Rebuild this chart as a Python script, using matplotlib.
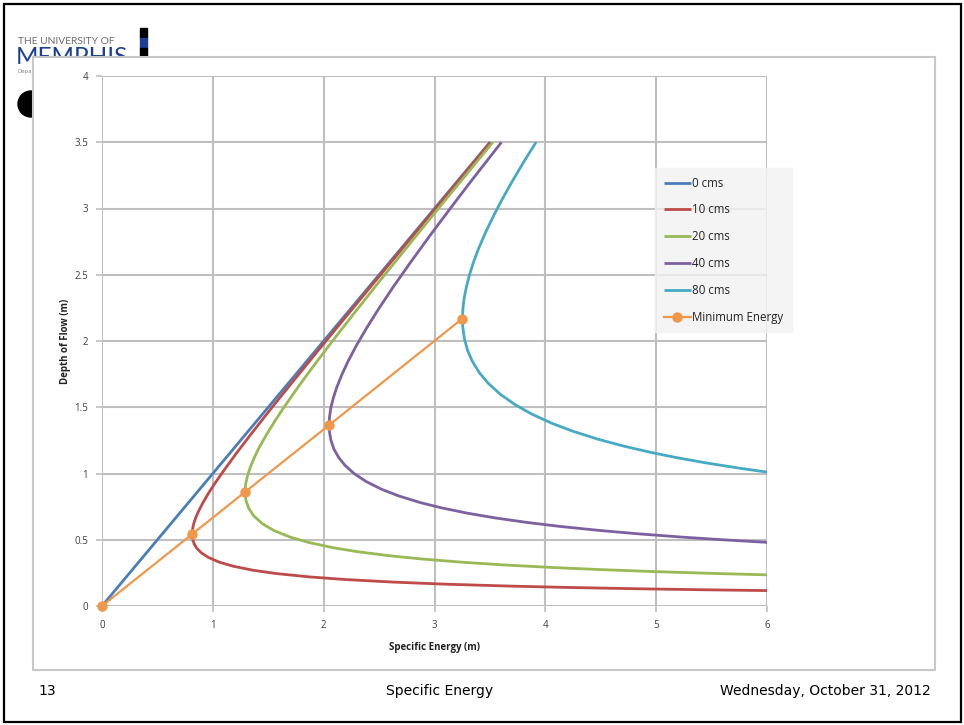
import matplotlib
matplotlib.use("Agg")
import matplotlib.pyplot as plt
from matplotlib.patches import Rectangle, Ellipse

# depth (m) and specific energy (m), one pair of lists per flow
depth_0 = [0.0, 3.5]
energy_0 = [0.0, 3.5]

depth_10 = [0.116, 0.122, 0.13, 0.14, 0.15, 0.165, 0.18, 0.20, 0.22, 0.245,
            0.27, 0.30, 0.33, 0.365, 0.40, 0.435, 0.47, 0.505, 0.54, 0.58,
            0.62, 0.67, 0.72, 0.78, 0.85, 0.92, 1.0, 1.15, 1.3, 1.5,
            1.7, 2.0, 2.4, 2.9, 3.5]
energy_10 = [6.035, 5.473, 4.842, 4.203, 3.690, 3.090, 2.638, 2.191, 1.865, 1.572,
             1.362, 1.185, 1.061, 0.963, 0.898, 0.856, 0.831, 0.817, 0.813, 0.817,
             0.827, 0.847, 0.874, 0.911, 0.960, 1.014, 1.080, 1.210, 1.347, 1.535,
             1.728, 2.020, 2.414, 2.910, 3.507]

depth_20 = [0.235, 0.245, 0.26, 0.275, 0.29, 0.31, 0.33, 0.355, 0.38, 0.41,
            0.44, 0.48, 0.52, 0.57, 0.62, 0.68, 0.74, 0.80, 0.86, 0.92,
            0.98, 1.05, 1.12, 1.2, 1.3, 1.4, 1.5, 1.65, 1.8, 2.0,
            2.2, 2.45, 2.7, 3.0, 3.5]
energy_20 = [6.003, 5.552, 4.972, 4.487, 4.078, 3.625, 3.255, 2.883, 2.586, 2.305,
             2.085, 1.863, 1.698, 1.550, 1.449, 1.369, 1.322, 1.298, 1.291, 1.296,
             1.312, 1.339, 1.374, 1.421, 1.489, 1.563, 1.642, 1.767, 1.898, 2.080,
             2.266, 2.503, 2.744, 3.035, 3.526]

depth_40 = [0.48, 0.50, 0.52, 0.545, 0.57, 0.60, 0.63, 0.665, 0.70, 0.74,
            0.78, 0.83, 0.88, 0.94, 1.0, 1.06, 1.12, 1.185, 1.25, 1.31,
            1.37, 1.43, 1.5, 1.57, 1.65, 1.75, 1.85, 1.97, 2.1, 2.25,
            2.4, 2.6, 2.8, 3.0, 3.2, 3.5]
energy_40 = [6.010, 5.597, 5.232, 4.835, 4.492, 4.139, 3.840, 3.546, 3.300, 3.067,
             2.874, 2.680, 2.525, 2.382, 2.274, 2.194, 2.136, 2.092, 2.066, 2.053,
             2.049, 2.053, 2.066, 2.087, 2.118, 2.166, 2.222, 2.298, 2.389, 2.502,
             2.621, 2.789, 2.963, 3.142, 3.324, 3.604]

depth_80 = [1.01, 1.04, 1.08, 1.12, 1.16, 1.21, 1.26, 1.32, 1.38, 1.45,
            1.52, 1.6, 1.68, 1.76, 1.85, 1.93, 2.02, 2.1, 2.17, 2.25,
            2.32, 2.41, 2.5, 2.6, 2.7, 2.82, 2.95, 3.07, 3.2, 3.35, 3.5]
energy_80 = [6.006, 5.752, 5.450, 5.183, 4.948, 4.691, 4.470, 4.245, 4.056, 3.874,
             3.726, 3.591, 3.486, 3.405, 3.339, 3.298, 3.269, 3.256, 3.252, 3.257,
             3.267, 3.288, 3.316, 3.354, 3.399, 3.461, 3.536, 3.611, 3.698, 3.804, 3.916]

depth_min = [0.0, 0.542, 0.86, 1.366, 2.168]
energy_min = [0.0, 0.813, 1.29, 2.05, 3.25]

x_ticks = [0, 1, 2, 3, 4, 5, 6]
y_ticks = [0, 0.5, 1, 1.5, 2, 2.5, 3, 3.5, 4]
y_ticklabels = ["0", "0.5", "1", "1.5", "2", "2.5", "3", "3.5", "4"]

series = [
    (energy_0, depth_0, "0 cms", "#4a7ebb"),
    (energy_10, depth_10, "10 cms", "#be4b48"),
    (energy_20, depth_20, "20 cms", "#98b954"),
    (energy_40, depth_40, "40 cms", "#7d60a0"),
    (energy_80, depth_80, "80 cms", "#46aac5"),
]

W, H = 964, 725
fig = plt.figure(figsize=(9.64, 7.25), dpi=100)
fig.patch.set_facecolor("white")

def fx(px):
    return px / W

def fy(py):
    return 1 - py / H

# slide border
fig.patches.append(Rectangle((fx(4), fy(722)), fx(957), 718 / H, transform=fig.transFigure,
                             fill=False, edgecolor="black", linewidth=1.6, zorder=0))

# logo bits that sit behind the chart box
fig.text(fx(18), fy(44), "THE UNIVERSITY OF", fontsize=7.4, color="#6d6e71",
         family="Lato", va="baseline", zorder=0)
fig.text(fx(16), fy(47), "MEMPHIS", fontsize=17.5, color="#1c3f94", family="Lato",
         va="top", zorder=0)
fig.text(fx(18), fy(72), "Department", fontsize=4, color="#888888", va="center", zorder=0)
fig.patches.append(Rectangle((fx(140), fy(38)), fx(7), 10 / H, transform=fig.transFigure,
                             color="black", zorder=0))
fig.patches.append(Rectangle((fx(140), fy(48)), fx(7), 10 / H, transform=fig.transFigure,
                             color="#1c3f94", zorder=0))
fig.patches.append(Rectangle((fx(140), fy(57)), fx(7), 9 / H, transform=fig.transFigure,
                             color="black", zorder=0))
fig.patches.append(Ellipse((fx(31), fy(104)), fx(26), 26 / H, transform=fig.transFigure,
                           color="black", zorder=0))

# chart box
fig.patches.append(Rectangle((fx(33), fy(670)), fx(902), 613 / H, transform=fig.transFigure,
                             facecolor="white", edgecolor="#c8c8c8", linewidth=1.5, zorder=1))

ax = fig.add_axes([fx(102), fy(606), fx(665), 530 / H])
ax.set_zorder(2)
ax.patch.set_alpha(0)

for e, d, lab, col in series:
    ax.plot(e, d, color=col, linewidth=2.0, label=lab, solid_capstyle="butt",
            solid_joinstyle="round", zorder=3)
ax.plot(energy_min, depth_min, color="#f0984a", linewidth=1.6, marker="o",
        markersize=6.5, label="Minimum Energy", zorder=4, clip_on=False)

ax.set_xlim(0, 6)
ax.set_ylim(0, 4)
ax.set_xticks(x_ticks)
ax.set_yticks(y_ticks)
ax.set_yticklabels(y_ticklabels)
ax.grid(True, color="#bfbfbf", linewidth=1.5)
ax.set_axisbelow(True)
for s in ax.spines.values():
    s.set_visible(False)
ax.tick_params(axis="both", length=4, width=1.2, color="#bfbfbf", labelsize=7,
               labelcolor="#404040", pad=6)
for lbl in ax.get_xticklabels() + ax.get_yticklabels():
    lbl.set_family("Open Sans")

ax.set_xlabel("Specific Energy (m)", fontsize=7, fontweight="bold", family="Open Sans",
              color="#222222", labelpad=8)
ax.set_ylabel("Depth of Flow (m)", fontsize=7, fontweight="bold", family="Open Sans",
              color="#222222", labelpad=2)

leg = ax.legend(loc="upper left", bbox_to_anchor=(fx(655), fy(168)),
                bbox_transform=fig.transFigure, fontsize=8.3, frameon=True,
                fancybox=False, handlelength=2.4, handletextpad=0.1,
                labelspacing=1.2, borderpad=0.75, borderaxespad=0)
leg.get_frame().set_facecolor("#f2f2f2")
leg.get_frame().set_edgecolor("#f2f2f2")
for t in leg.get_texts():
    t.set_family("Open Sans")
    t.set_color("#222222")

# footer
fig.text(fx(38), fy(691), "13", fontsize=10, va="center", ha="left", color="black")
fig.text(fx(440), fy(691), "Specific Energy", fontsize=10, va="center", ha="center",
         color="black")
fig.text(fx(931), fy(691), "Wednesday, October 31, 2012", fontsize=10, va="center",
         ha="right", color="black")

fig.savefig("out.png", dpi=100)
